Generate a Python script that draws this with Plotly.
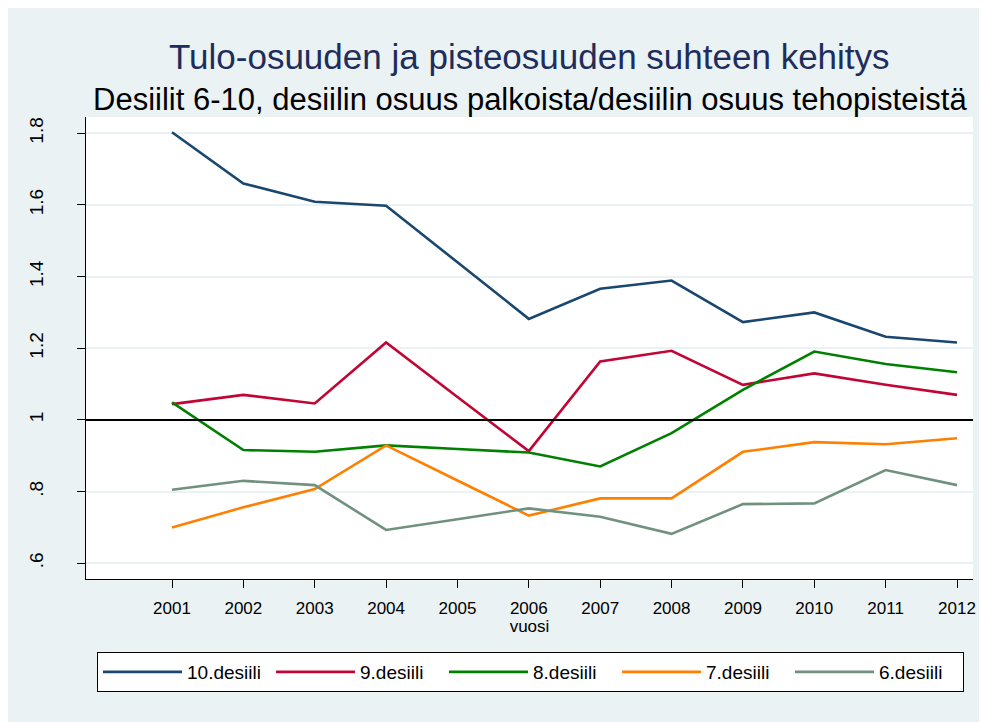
import plotly.graph_objects as go

years = [2001, 2002, 2003, 2004, 2005, 2006, 2007, 2008, 2009, 2010, 2011, 2012]
d10 = [1.803, 1.660, 1.609, 1.598, 1.440, 1.282, 1.366, 1.389, 1.273, 1.300, 1.232, 1.216]
d9 = [1.044, 1.070, 1.046, 1.216, 1.064, 0.913, 1.163, 1.193, 1.098, 1.130, 1.098, 1.070]
d8 = [1.049, 0.916, 0.911, 0.929, 0.919, 0.909, 0.870, 0.963, 1.084, 1.191, 1.156, 1.133]
d7 = [0.700, 0.756, 0.807, 0.929, 0.831, 0.733, 0.781, 0.781, 0.911, 0.938, 0.932, 0.949]
d6 = [0.805, 0.830, 0.818, 0.693, 0.723, 0.753, 0.730, 0.682, 0.765, 0.767, 0.860, 0.818]

series_names = ["10.desiili", "9.desiili", "8.desiili", "7.desiili", "6.desiili"]
series_values = [d10, d9, d8, d7, d6]
series_colors = ["#1A476F", "#C10534", "#008000", "#FF8000", "#71917F"]

ytick_vals = [0.6, 0.8, 1.0, 1.2, 1.4, 1.6, 1.8]
ytick_text = [".6", ".8", "1", "1.2", "1.4", "1.6", "1.8"]
ref_value = 1.0

title = "Tulo-osuuden ja pisteosuuden suhteen kehitys"
subtitle = "Desiilit 6-10, desiilin osuus palkoista/desiilin osuus tehopisteistä"
xtitle = "vuosi"

FONT = "Liberation Sans, Arial, sans-serif"
BG = "#EAF2F3"

fig = go.Figure()
for name, vals, col in zip(series_names, series_values, series_colors):
    fig.add_trace(go.Scatter(x=years, y=vals, mode="lines", name=name,
                             line=dict(color=col, width=2.6)))

W, H = 987, 722
L, R, T, B = 78, 22, 109, 151
pw = W - L - R
ph = H - T - B

fig.add_shape(type="line", xref="paper", yref="y", x0=0, x1=1, y0=ref_value, y1=ref_value,
              line=dict(color="black", width=2))

fig.update_layout(
    width=W, height=H,
    margin=dict(l=L, r=R, t=T, b=B, autoexpand=False),
    paper_bgcolor=BG, plot_bgcolor="white",
    font=dict(family=FONT, color="black", size=16),
    showlegend=True,
    legend=dict(orientation="h", x=(89 - L) / pw, xanchor="left", y=-(644 - T - ph) / ph, yanchor="top",
                bgcolor="white", bordercolor="black", borderwidth=1,
                font=dict(size=19, family=FONT), entrywidth=79, entrywidthmode="pixels",
                itemwidth=79),
    annotations=[
        dict(text=title, xref="paper", yref="paper", x=0.5, y=1 + (T - 48) / ph,
             xanchor="center", yanchor="middle", showarrow=False,
             font=dict(size=35, color="#1E2D5C", family=FONT)),
        dict(text=subtitle, xref="paper", yref="paper", x=0.5, y=1 + (T - 91) / ph,
             xanchor="center", yanchor="middle", showarrow=False,
             font=dict(size=31, color="black", family=FONT)),
    ],
)

fig.update_xaxes(range=[1999.795, 2012.224], tickvals=years, ticktext=[str(y) for y in years],
                 showgrid=False, zeroline=False, showline=True, linecolor="black", linewidth=1.2,
                 ticks="outside", ticklen=8, tickcolor="black", tickwidth=1, automargin=False,
                 tickfont=dict(size=17), ticklabelstandoff=5,
                 title=dict(text=xtitle, font=dict(size=17), standoff=2))
fig.update_yaxes(range=[0.556, 1.8455], tickvals=ytick_vals, ticktext=ytick_text,
                 showgrid=True, gridcolor=BG, gridwidth=2, zeroline=False,
                 showline=True, linecolor="black", linewidth=1.2, automargin=False,
                 ticks="outside", ticklen=8, tickcolor="black", tickwidth=1,
                 tickangle=-90, tickfont=dict(size=19), ticklabelstandoff=26)

fig.write_html("out.html")
